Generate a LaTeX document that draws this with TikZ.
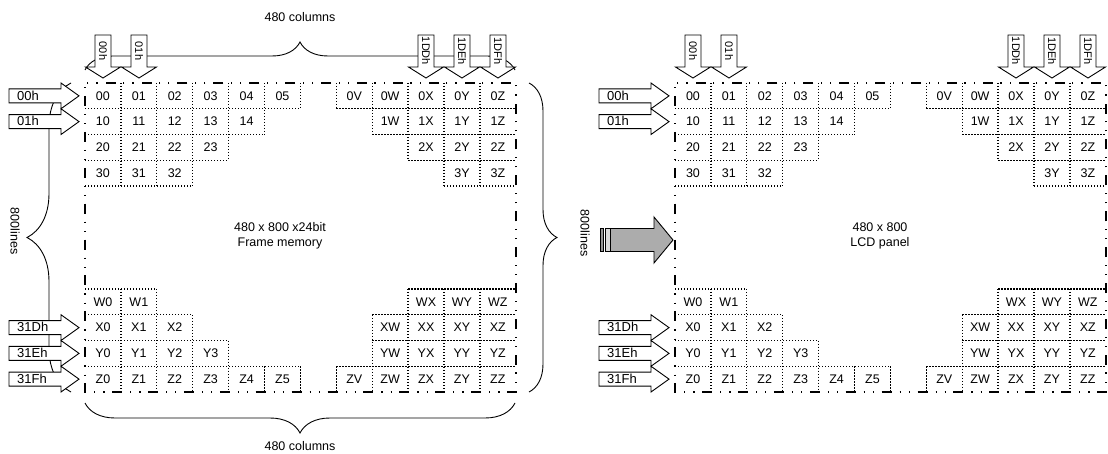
\documentclass[tikz,border=0pt]{standalone}
\usepackage{fontspec}
\setmainfont{Liberation Sans}
\usetikzlibrary{decorations.pathreplacing}
\newcommand\drawpanel[2]{%
\begin{scope}[shift={(#1,83)}, x=35.9pt, y=-25.75pt]
 \foreach \kk/\pa/\pb/\pc/\pd in {1/0/6/7/12, 2/0/5/8/12, 3/0/4/9/12, 4/0/3/10/12, 8/0/2/9/12, 9/0/3/8/12, 10/0/4/8/12, 11/0/6/7/12}
   {\draw[cellline] (\pa,\kk) -- (\pb,\kk) (\pc,\kk) -- (\pd,\kk);}
 \foreach \jj/\pa/\pb/\pc/\pd in {1/0/4/8/12, 2/0/4/8/12, 3/0/4/9/12, 4/0/3/10/12, 5/0/2/11/12, 6/0/1/11/12, 7/0/1/11/12, 8/0/2/9/12, 9/0/3/8/12, 10/0/4/8/12, 11/0/4/8/12}
   {\draw[cellline] (\jj,\pa) -- (\jj,\pb) (\jj,\pc) -- (\jj,\pd);}
 \foreach \rr/\cc/\tt in {0/0/00,0/1/01,0/2/02,0/3/03,0/4/04,0/5/05,0/7/0V,0/8/0W,0/9/0X,0/10/0Y,0/11/0Z,
   1/0/10,1/1/11,1/2/12,1/3/13,1/4/14,1/8/1W,1/9/1X,1/10/1Y,1/11/1Z,
   2/0/20,2/1/21,2/2/22,2/3/23,2/9/2X,2/10/2Y,2/11/2Z,
   3/0/30,3/1/31,3/2/32,3/10/3Y,3/11/3Z,
   8/0/W0,8/1/W1,8/9/WX,8/10/WY,8/11/WZ,
   9/0/X0,9/1/X1,9/2/X2,9/8/XW,9/9/XX,9/10/XY,9/11/XZ,
   10/0/Y0,10/1/Y1,10/2/Y2,10/3/Y3,10/8/YW,10/9/YX,10/10/YY,10/11/YZ,
   11/0/Z0,11/1/Z1,11/2/Z2,11/3/Z3,11/4/Z4,11/5/Z5,11/7/ZV,11/8/ZW,11/9/ZX,11/10/ZY,11/11/ZZ}
   {\node[txt] (#2-\rr-\cc) at (\cc+0.5,\rr+0.5) {\tt};}
 \draw[border] (0,0) rectangle (12,12);
\end{scope}}
\newcommand\rowarrow[4]{%
 \draw[arrowshape] (#1,#2-7) -- (#1+52,#2-7) -- (#1+52,#2-12.875) -- (#1+70,#2) -- (#1+52,#2+12.875) -- (#1+52,#2+7) -- (#1,#2+7) -- cycle;
 \node[lbl, anchor=west] (#4) at (#1+8,#2-0.5) {#3};}
\newcommand\colarrow[3]{%
 \draw[arrowshape] (#1-8,35) -- (#1+8,35) -- (#1+8,67) -- (#1+17.5,67) -- (#1,78) -- (#1-17.5,67) -- (#1-8,67) -- cycle;
 \node[clbl, rotate=-90] (#3) at (#1,51) {#2};}
\begin{document}
\begin{tikzpicture}[x=1pt,y=-1pt,
  txt/.style={font=\fontsize{12.5}{14}\selectfont, inner sep=0pt},
  lbl/.style={font=\fontsize{13}{14}\selectfont, inner sep=0pt},
  clbl/.style={font=\fontsize{11}{13}\selectfont, inner sep=0pt},
  cellline/.style={line width=1.35pt, dash pattern=on 1.4pt off 1.6pt},
  border/.style={line width=1.8pt, dash pattern=on 10pt off 8pt on 1.2pt off 8pt on 1.2pt off 7.5pt, dash phase=22.9pt},
  arrowshape/.style={draw, fill=white, line width=0.9pt, line join=miter},
  bracestyle/.style={decorate, decoration={brace, amplitude=#1}, line width=0.9pt}]
\useasboundingbox (0,0) rectangle (1108,454);

% ---------------- left panel: frame memory ----------------
\drawpanel{85}{L}
\node[txt, align=center] (fmtext) at (280,236) {480 x 800 x24bit\\[1pt]Frame memory};

% braces
\coordinate (tbA) at (85,70);
\coordinate (tbB) at (515,70);
\draw[bracestyle=28] (tbA) -- (tbB);
\node[txt] (topcols) at (300,17) {480 columns};

\coordinate (bbA) at (515,403);
\coordinate (bbB) at (85,403);
\draw[bracestyle=30] (bbA) -- (bbB);
\node[txt] (botcols) at (300,446) {480 columns};

\coordinate (rbA) at (529,83);
\coordinate (rbB) at (529,392);
\draw[bracestyle=28] (rbA) -- (rbB);

\coordinate (lbA) at (71,392);
\coordinate (lbB) at (71,83);
\draw[bracestyle=44] (lbA) -- (lbB);
\node[txt, rotate=-90] (lines1) at (15,231) {800lines};

% column arrows
\colarrow{103}{00h}{Lc0}
\colarrow{139}{01h}{Lc1}
\colarrow{426}{1DDh}{Lc9}
\colarrow{462}{1DEh}{Lc10}
\colarrow{498}{1DFh}{Lc11}

% row arrows
\rowarrow{9}{95.875}{00h}{Lr0}
\rowarrow{9}{121.625}{01h}{Lr1}
\rowarrow{9}{327.625}{31Dh}{Lr9}
\rowarrow{9}{353.375}{31Eh}{Lr10}
\rowarrow{9}{379.125}{31Fh}{Lr11}

% ---------------- right panel: LCD panel ----------------
\drawpanel{675}{R}
\node[txt, align=center] (lcdtext) at (880,236) {480 x 800\\[1pt]LCD panel};

\colarrow{693}{00h}{Rc0}
\colarrow{729}{01h}{Rc1}
\colarrow{1016}{1DDh}{Rc9}
\colarrow{1052}{1DEh}{Rc10}
\colarrow{1088}{1DFh}{Rc11}

\rowarrow{599}{95.875}{00h}{Rr0}
\rowarrow{599}{121.625}{01h}{Rr1}
\rowarrow{599}{327.625}{31Dh}{Rr9}
\rowarrow{599}{353.375}{31Eh}{Rr10}
\rowarrow{599}{379.125}{31Fh}{Rr11}

\node[txt, rotate=-90] (lines2) at (585,233) {800lines};

% gray transfer arrow
\draw[fill=gray!65, line width=0.9pt, line join=miter] (610,228.5) -- (654,228.5) -- (654,217) -- (673,240) -- (654,263) -- (654,251.5) -- (610,251.5) -- cycle;
\draw[fill=gray!85, line width=0.8pt] (600,228.5) rectangle (603.5,251.5);
\draw[fill=gray!30, line width=0.8pt] (605,228.5) rectangle (610,251.5);
\end{tikzpicture}
\end{document}
